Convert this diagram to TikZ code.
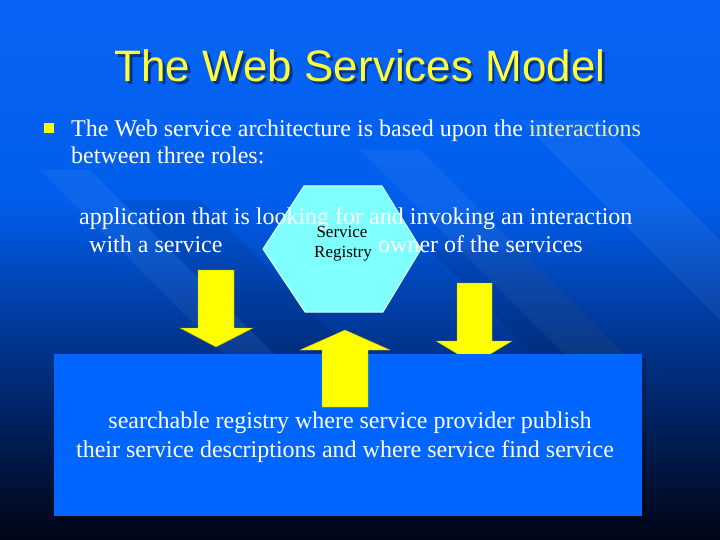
\documentclass[tikz,border=0pt]{standalone}
\usepackage{fontspec}
\setmainfont{Liberation Serif}
\newfontfamily\titlefont{Liberation Sans}
\definecolor{bgA}{RGB}{0,5,20}
\definecolor{bgB}{RGB}{0,28,82}
\definecolor{bgC}{RGB}{0,64,170}
\definecolor{bgD}{RGB}{0,94,236}
\definecolor{bgE}{RGB}{8,100,246}
\definecolor{slideyellow}{RGB}{255,255,0}
\definecolor{titleyellow}{RGB}{255,255,60}
\definecolor{interact}{RGB}{235,240,150}
\definecolor{hexcyan}{RGB}{128,255,255}
\definecolor{hexedge}{RGB}{215,255,255}
\definecolor{boxblue}{RGB}{0,102,255}
\tikzset{
  bodytext/.style={inner sep=0pt, text=white, font=\fontsize{24}{28}\selectfont},
  hextext/.style={inner sep=0pt, text=black, font=\fontsize{17}{21}\selectfont},
  yarrow/.style={fill=slideyellow, draw=slideyellow!70!black, line width=0.4pt, line join=miter},
  band/.style={fill=white, fill opacity=0.05},
  darkband/.style={fill=black, fill opacity=0.08}
}
\begin{document}
\begin{tikzpicture}[x=1pt,y=-1pt]
\useasboundingbox (0,0) rectangle (720,540);
% background
\shade[top color=bgE, bottom color=bgD] (0,0) rectangle (720,201);
\shade[top color=bgD, bottom color=bgC] (0,200) rectangle (720,301);
\shade[top color=bgC, bottom color=bgB] (0,300) rectangle (720,441);
\shade[top color=bgB, bottom color=bgA] (0,440) rectangle (720,540);
% diagonal bands
\begin{scope}
\clip (0,0) rectangle (720,540);
\fill[band] (520,120) -- (600,120) -- (820,340) -- (740,340) -- cycle;
\fill[band] (360,150) -- (420,150) -- (640,370) -- (580,370) -- cycle;
\fill[darkband] (120,200) -- (200,200) -- (400,400) -- (320,400) -- cycle;
\fill[band] (40,170) -- (90,170) -- (290,370) -- (240,370) -- cycle;
\fill[darkband] (430,250) -- (520,250) -- (640,370) -- (550,370) -- cycle;
\end{scope}
% title
\node[inner sep=0pt, anchor=base, text=black, opacity=0.45, font=\titlefont\fontsize{44}{44}\selectfont] at (362.5,84.5) {The Web Services Model};
\node (title) [inner sep=0pt, anchor=base, text=titleyellow, font=\titlefont\fontsize{44}{44}\selectfont] at (360,82) {The Web Services Model};
% bullet
\fill[slideyellow] (43.5,123) rectangle (53.5,133);
\node (b1) [bodytext, anchor=base west] at (71,137) {The Web service architecture is based upon the \textcolor{interact}{interactions}};
\node (b2) [bodytext, anchor=base west] at (71,164) {between three roles:};
% hexagon
\coordinate (h1) at (304,186);
\coordinate (h2) at (382,186);
\coordinate (h3) at (421,249);
\coordinate (h4) at (383,312);
\coordinate (h5) at (305,312);
\coordinate (h6) at (263,249);
\fill[hexcyan, draw=hexedge, line width=1pt] (h1) -- (h2) -- (h3) -- (h4) -- (h5) -- (h6) -- cycle;
% role texts
\node (r1) [bodytext, anchor=base west] at (79,225) {application that is looking for and invoking an interaction};
\node (r2) [bodytext, anchor=base west] at (89,252) {with a service};
\node (r3) [bodytext, anchor=base west] at (378,252) {owner of the services};
\node (svc1) [hextext, anchor=base] at (342,237) {Service};
\node (svc2) [hextext, anchor=base] at (343,258) {Registry};
% arrows
\path[yarrow] (198,270) -- (234,270) -- (234,328) -- (253,328) -- (216,347) -- (180,328) -- (198,328) -- cycle;
\path[yarrow] (457,283) -- (492,283) -- (492,341) -- (512,341) -- (474,364) -- (436,341) -- (457,341) -- cycle;
% registry box
\fill[black, opacity=0.25] (57,358) rectangle (646,520);
\fill[boxblue] (53.5,354) rectangle (642,516);
\path[yarrow] (322,407) -- (368,407) -- (368,350) -- (390,350) -- (345,330) -- (300,350) -- (322,350) -- cycle;
\node (reg1) [bodytext, anchor=base] at (350,428) {searchable registry where service provider publish};
\node (reg2) [bodytext, anchor=base] at (345,457) {their service descriptions and where service find service};
\end{tikzpicture}
\end{document}
